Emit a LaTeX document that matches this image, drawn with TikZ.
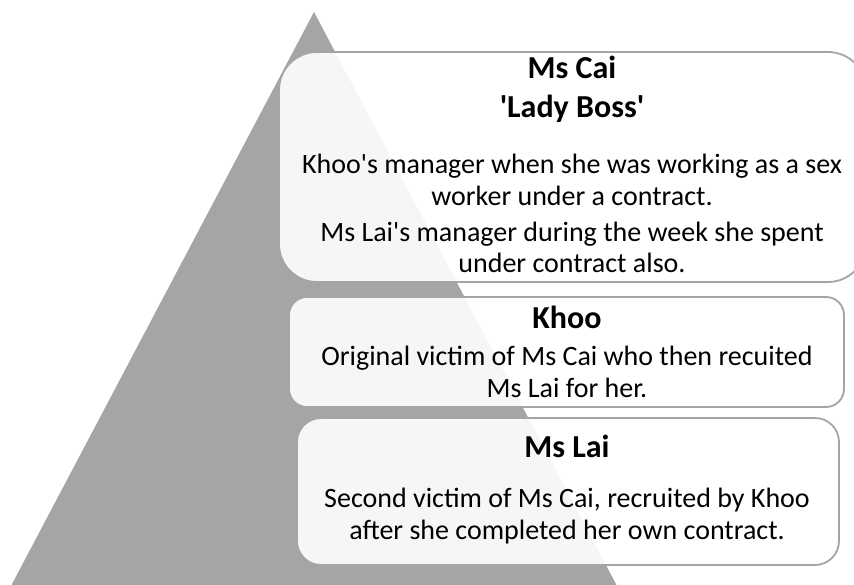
\documentclass[tikz,border=0pt]{standalone}
\usepackage{fontspec}
\setmainfont{Carlito}[Ligatures=TeXOff]
\definecolor{pyr}{HTML}{A5A5A5}
\begin{document}
\begin{tikzpicture}[x=1pt,y=-1pt,
  tier/.style={draw=pyr, line width=1.8pt, fill=white, fill opacity=0.9,
    inner sep=0pt, outer sep=0pt, rounded corners=#1},
  head/.style={font=\fontsize{32}{36}\selectfont\bfseries, inner sep=0pt},
  body/.style={font=\fontsize{28}{31.5}\selectfont, align=center, inner sep=0pt}]
  \useasboundingbox (0,0) rectangle (854,585);
  \clip (0,0) rectangle (854,585);

  % pyramid
  \fill[pyr] (314,12) -- (11.5,585) -- (616.5,585) -- cycle;

  % tiers
  \node[tier=38pt, minimum width=587pt, minimum height=230pt] (top) at (572.5,167) {};
  \node[tier=18pt, minimum width=555pt, minimum height=110pt] (mid) at (566.5,352) {};
  \node[tier=24pt, minimum width=542pt, minimum height=147pt] (low) at (568,491.5) {};

  % top tier
  \node[head] (cai) at (572,67) {Ms Cai};
  \node[head] (boss) at (572,109) {'Lady Boss'};
  \node[body] (caiA) at (572,180) {Khoo's manager when she was working as a sex\\worker under a contract.};
  \node[body] (caiB) at (572,247.5) {Ms Lai's manager during the week she spent\\under contract also.};

  % middle tier
  \node[head] (khoo) at (567,317) {Khoo};
  \node[body] (khooA) at (567,372) {Original victim of Ms Cai who then recuited\\Ms Lai for her.};

  % bottom tier
  \node[head] (lai) at (567,446) {Ms Lai};
  \node[body] (laiA) at (567,516) {Second victim of Ms Cai, recruited by Khoo\\after she completed her own contract.};
\end{tikzpicture}
\end{document}
